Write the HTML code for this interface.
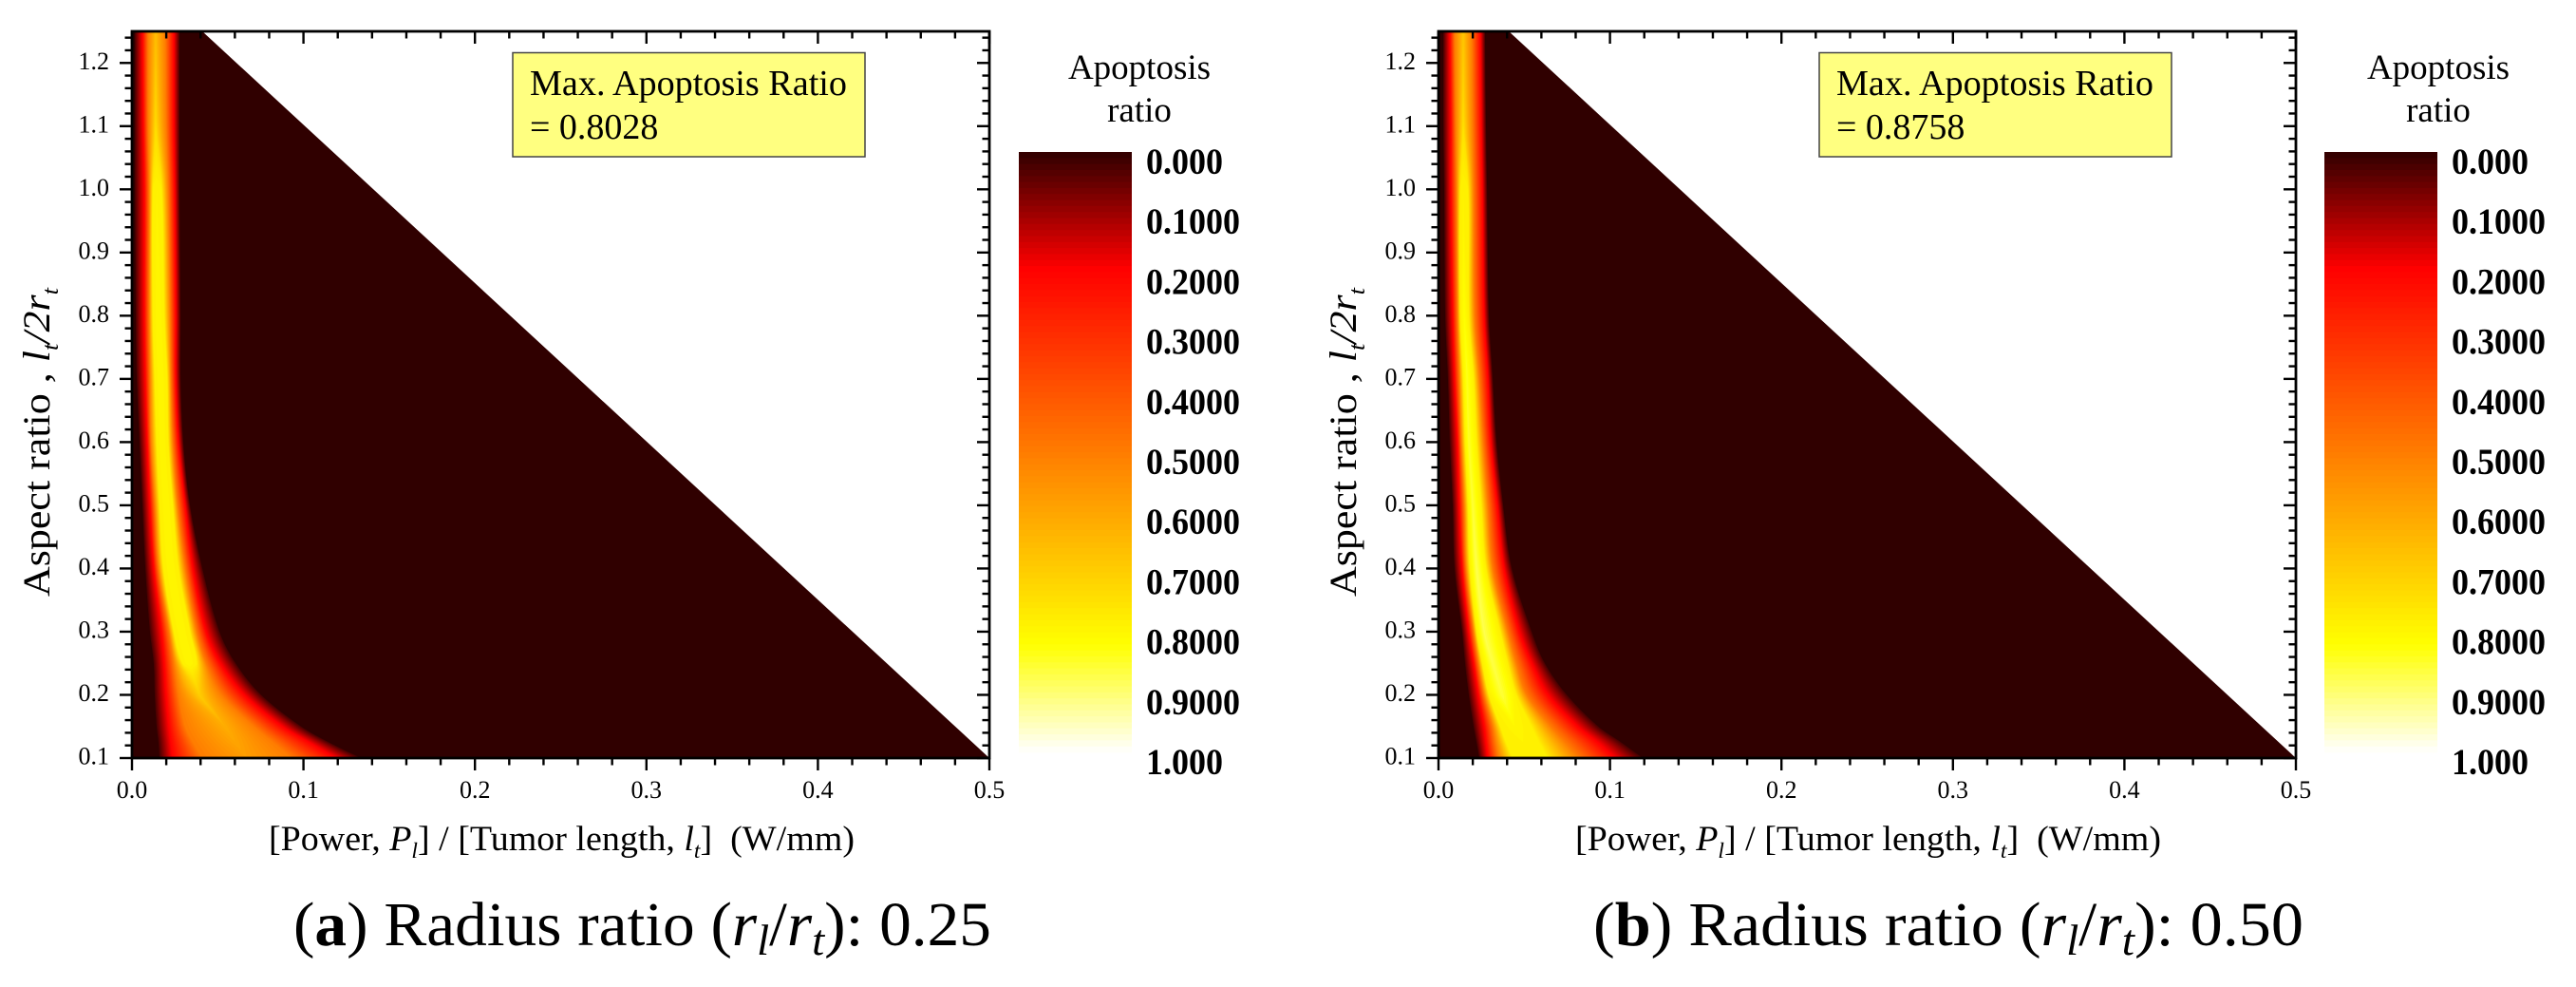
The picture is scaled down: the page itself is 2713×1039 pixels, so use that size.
<!DOCTYPE html>
<html lang="en">
<head>
<meta charset="utf-8">
<title>Apoptosis ratio heatmaps</title>
<style>
html,body{margin:0;padding:0;background:#fff;}
svg{display:block;}
text{font-family:"Liberation Serif",serif;fill:#000;white-space:pre;}
</style>
</head>
<body>
<svg id="figure" xmlns="http://www.w3.org/2000/svg" width="2713" height="1039" viewBox="0 0 2713 1039">
  <defs>
    <clipPath id="clip-a"><rect x="139" y="33" width="903" height="765"/></clipPath>
    <clipPath id="clip-b"><rect x="1515" y="33" width="903" height="765"/></clipPath>
  </defs>
  <rect x="0" y="0" width="2713" height="1039" fill="#fff"/>

  <g id="panel-a"></g>
  <g id="panel-b"></g>

  <g>
    <rect x="540" y="55.5" width="371" height="109.5" fill="#ffff80" stroke="#444" stroke-width="1.5"/>
    <text x="558" y="100" font-size="38" textLength="334" lengthAdjust="spacingAndGlyphs">Max. Apoptosis Ratio</text>
    <text x="558" y="146" font-size="38">= 0.8028</text>
  </g>
  <g>
    <rect x="1916" y="55.5" width="371" height="109.5" fill="#ffff80" stroke="#444" stroke-width="1.5"/>
    <text x="1934" y="100" font-size="38" textLength="334" lengthAdjust="spacingAndGlyphs">Max. Apoptosis Ratio</text>
    <text x="1934" y="146" font-size="38">= 0.8758</text>
  </g>

  <text x="283" y="895" font-size="37" textLength="617" lengthAdjust="spacingAndGlyphs">[Power, <tspan font-style="italic">P</tspan><tspan font-style="italic" font-size="23" dy="8">l</tspan><tspan dy="-8">] / [Tumor length, </tspan><tspan font-style="italic">l</tspan><tspan font-style="italic" font-size="23" dy="8">t</tspan><tspan dy="-8">]  (W/mm)</tspan></text>
  <text x="1659" y="895" font-size="37" textLength="617" lengthAdjust="spacingAndGlyphs">[Power, <tspan font-style="italic">P</tspan><tspan font-style="italic" font-size="23" dy="8">l</tspan><tspan dy="-8">] / [Tumor length, </tspan><tspan font-style="italic">l</tspan><tspan font-style="italic" font-size="23" dy="8">t</tspan><tspan dy="-8">]  (W/mm)</tspan></text>

  <text transform="translate(52,628) rotate(-90)" x="0" y="0" font-size="40" textLength="325" lengthAdjust="spacingAndGlyphs">Aspect ratio , <tspan font-style="italic">l</tspan><tspan font-style="italic" font-size="24" dy="9">t</tspan><tspan font-style="italic" dy="-9">/2r</tspan><tspan font-style="italic" font-size="24" dy="9">t</tspan></text>
  <text transform="translate(1428,628) rotate(-90)" x="0" y="0" font-size="40" textLength="325" lengthAdjust="spacingAndGlyphs">Aspect ratio , <tspan font-style="italic">l</tspan><tspan font-style="italic" font-size="24" dy="9">t</tspan><tspan font-style="italic" dy="-9">/2r</tspan><tspan font-style="italic" font-size="24" dy="9">t</tspan></text>

  <text x="1200" y="83" font-size="37" text-anchor="middle">Apoptosis</text>
  <text x="1200" y="128" font-size="37" text-anchor="middle">ratio</text>
  <text x="2568" y="83" font-size="37" text-anchor="middle">Apoptosis</text>
  <text x="2568" y="128" font-size="37" text-anchor="middle">ratio</text>

  <text x="309" y="995" font-size="66" textLength="735" lengthAdjust="spacingAndGlyphs">(<tspan font-weight="bold">a</tspan>) Radius ratio (<tspan font-style="italic">r</tspan><tspan font-style="italic" font-size="46" dy="10">l</tspan><tspan dy="-10">/</tspan><tspan font-style="italic">r</tspan><tspan font-style="italic" font-size="46" dy="10">t</tspan><tspan dy="-10">): 0.25</tspan></text>
  <text x="1678" y="995" font-size="66" textLength="748" lengthAdjust="spacingAndGlyphs">(<tspan font-weight="bold">b</tspan>) Radius ratio (<tspan font-style="italic">r</tspan><tspan font-style="italic" font-size="46" dy="10">l</tspan><tspan dy="-10">/</tspan><tspan font-style="italic">r</tspan><tspan font-style="italic" font-size="46" dy="10">t</tspan><tspan dy="-10">): 0.50</tspan></text>
</svg>

<script>
// ---------- Axis data ----------
const xTickValues = [0.0, 0.1, 0.2, 0.3, 0.4, 0.5];
const xTickLabels = ["0.0", "0.1", "0.2", "0.3", "0.4", "0.5"];
const yTickValues = [0.1, 0.2, 0.3, 0.4, 0.5, 0.6, 0.7, 0.8, 0.9, 1.0, 1.1, 1.2];
const yTickLabels = ["0.1", "0.2", "0.3", "0.4", "0.5", "0.6", "0.7", "0.8", "0.9", "1.0", "1.1", "1.2"];
const colorbarTickValues = [0, 0.1, 0.2, 0.3, 0.4, 0.5, 0.6, 0.7, 0.8, 0.9, 1];
const colorbarTickLabels = ["0.000", "0.1000", "0.2000", "0.3000", "0.4000", "0.5000", "0.6000", "0.7000", "0.8000", "0.9000", "1.000"];

// ---------- Colour map ----------
const colorStopValues = [0, 0.195, 0.82, 1];
const colorStopR = [48, 255, 255, 255];
const colorStopG = [0, 0, 255, 255];
const colorStopB = [0, 0, 0, 255];

// ---------- Feasible domain (power/length, aspect ratio) ----------
const domainPower = [0, 0.041, 0.5, 0];
const domainAspect = [1.25, 1.25, 0.1, 0.1];

// ---------- Heatmap contours, read per aspect-ratio row ----------
const aspectRows = [1.25, 1.1, 1.0, 0.8, 0.7, 0.6, 0.5, 0.4, 0.3, 0.25, 0.2, 0.15, 0.125, 0.1];
const contourLevels = [0.02, 0.2, 0.5, 0.78];

const aLeft001 = [.0017,.0017,.0017,.0022,.0028,.0044,.0061,.0078,.0105,.0127,.0133,.0144,.0155,.0161];
const aLeft020 = [.0061,.0066,.0072,.0072,.0078,.0089,.0105,.0127,.0172,.0188,.0199,.0216,.0227,.0238];
const aLeft050 = [.0094,.0094,.0100,.0100,.0105,.0111,.0133,.0155,.0216,.0244,.0271,.0310,.0355,.0410];
const aLeft078 = [null,null,.0122,.0122,.0133,.0144,.0161,.0183,.0244,.0294,null,null,null,null];
const aRidge   = [.0138,.0138,.0144,.0155,.0166,.0177,.0199,.0227,.0288,.0332,.0393,.0543,.0604,.0670];
const aRight078= [null,null,.0172,.0188,.0205,.0211,.0238,.0271,.0338,.0377,null,null,null,null];
const aRight050= [.0194,.0199,.0211,.0222,.0227,.0238,.0266,.0310,.0377,.0432,.0521,.0709,.0820,.0931];
const aRight020= [.0244,.0244,.0249,.0255,.0255,.0271,.0310,.0355,.0432,.0515,.0654,.0875,.1030,.1186];
const aRight001= [.0277,.0277,.0277,.0283,.0283,.0299,.0338,.0410,.0510,.0604,.0753,.0986,.1147,.1335];
const aPeak    = [.66,.74,.79,.80,.80,.80,.80,.80,.80,.80,.70,.62,.60,.58];

const bLeft001 = [.0028,.0028,.0033,.0039,.0055,.0066,.0083,.0094,.0138,.0155,.0177,.0205,.0222,.0238];
const bLeft020 = [.0066,.0072,.0072,.0083,.0094,.0111,.0122,.0138,.0177,.0205,.0233,.0266,.0277,.0288];
const bLeft050 = [.0094,.0100,.0105,.0111,.0122,.0133,.0150,.0161,.0205,.0233,.0266,.0316,.0332,.0349];
const bLeft078 = [null,null,.0127,.0127,.0144,.0155,.0172,.0183,.0222,.0255,.0294,.0360,.0393,.0432];
const bRidge   = [.0144,.0144,.0144,.0150,.0166,.0177,.0199,.0222,.0266,.0316,.0371,.0443,.0493,.0543];
const bRight078= [null,null,.0172,.0177,.0205,.0222,.0249,.0277,.0360,.0404,.0454,.0543,.0587,.0637];
const bRight050= [.0194,.0199,.0205,.0211,.0238,.0260,.0288,.0316,.0404,.0454,.0515,.0654,.0737,.0820];
const bRight020= [.0244,.0249,.0255,.0266,.0288,.0305,.0343,.0382,.0471,.0543,.0637,.0809,.0925,.1025];
const bRight001= [.0271,.0277,.0283,.0294,.0316,.0338,.0377,.0427,.0543,.0620,.0748,.0931,.1064,.1191];
const bPeak    = [.68,.75,.79,.82,.84,.85,.86,.875,.875,.87,.86,.80,.79,.785];

// ---------- Layout ----------
const NS = 'http://www.w3.org/2000/svg';
const plotTop = 33, plotBottom = 798, plotWidth = 903;
const xMin = 0, xMax = 0.5, yMin = 0.1, yMax = 1.25;
const barTop = 160, barBottom = 792, barWidth = 119;
const colorLevelCount = 100;

function make(tag, attrs, parent) {
  const el = document.createElementNS(NS, tag);
  for (const k in attrs) el.setAttribute(k, attrs[k]);
  parent.appendChild(el);
  return el;
}

function colorAt(v) {
  let i = 0;
  while (i < colorStopValues.length - 2 && v > colorStopValues[i + 1]) i++;
  const t = Math.max(0, Math.min(1, (v - colorStopValues[i]) / (colorStopValues[i + 1] - colorStopValues[i])));
  const r = Math.round(colorStopR[i] + t * (colorStopR[i + 1] - colorStopR[i]));
  const g = Math.round(colorStopG[i] + t * (colorStopG[i + 1] - colorStopG[i]));
  const b = Math.round(colorStopB[i] + t * (colorStopB[i + 1] - colorStopB[i]));
  return 'rgb(' + r + ',' + g + ',' + b + ')';
}

// Position of a contour level in one row, from the contours read for that row
function powerAtLevel(knots, ridge, peak, v) {
  if (v >= peak) return ridge;
  const lv = [], ps = [];
  knots.forEach(function (p, i) {
    if (p !== null && contourLevels[i] < peak) { lv.push(contourLevels[i]); ps.push(p); }
  });
  lv.push(peak); ps.push(ridge);
  if (v <= lv[0]) return ps[0];
  for (let i = 0; i < lv.length - 1; i++) {
    if (v <= lv[i + 1]) return ps[i] + (v - lv[i]) / (lv[i + 1] - lv[i]) * (ps[i + 1] - ps[i]);
  }
  return ridge;
}

// Smooth curve through contour points, parameterised by y
function curveThrough(xs, ys, first) {
  const n = xs.length;
  const m = [];
  for (let i = 0; i < n; i++) {
    const a = Math.max(0, i - 1), b = Math.min(n - 1, i + 1);
    m.push((xs[b] - xs[a]) / (ys[b] - ys[a]));
  }
  let d = (first ? 'M' : 'L') + xs[0].toFixed(2) + ' ' + ys[0].toFixed(2);
  for (let i = 0; i < n - 1; i++) {
    const h = (ys[i + 1] - ys[i]) / 3;
    d += 'C' + (xs[i] + m[i] * h).toFixed(2) + ' ' + (ys[i] + h).toFixed(2) + ' ' +
         (xs[i + 1] - m[i + 1] * h).toFixed(2) + ' ' + (ys[i + 1] - h).toFixed(2) + ' ' +
         xs[i + 1].toFixed(2) + ' ' + ys[i + 1].toFixed(2);
  }
  return d;
}

function drawPanel(cfg) {
  const root = document.getElementById(cfg.id);
  const x0 = cfg.x0;
  const xScale = function (p) { return x0 + (p - xMin) / (xMax - xMin) * plotWidth; };
  const yScale = function (l) { return plotBottom - (l - yMin) / (yMax - yMin) * (plotBottom - plotTop); };

  const heat = make('g', { 'clip-path': 'url(#' + cfg.clip + ')' }, root);
  
  

  const domain = make('polygon', {
    points: domainPower.map(function (p, i) { return xScale(p) + ',' + yScale(domainAspect[i]); }).join(' '),
    fill: colorAt(0)
  }, heat);
  
  

  const ysRows = aspectRows.map(yScale);
  const peak = cfg.peak, ridge = cfg.ridge;
  for (let k = 1; k < colorLevelCount; k++) {
    const v = k / colorLevelCount;
    let i0 = -1, i1 = -1;
    for (let r = 0; r < aspectRows.length; r++) {
      if (peak[r] > v) { if (i0 < 0) i0 = r; i1 = r; }
    }
    if (i0 < 0) break;

    const leftX = [], rightX = [], ys = [];
    // The level closes on the ridge where the row peak falls to it
    if (i0 > 0) {
      const t = (v - peak[i0 - 1]) / (peak[i0] - peak[i0 - 1]);
      const capX = xScale(ridge[i0 - 1] + t * (ridge[i0] - ridge[i0 - 1]));
      leftX.push(capX);
      rightX.push(capX);
      ys.push(ysRows[i0 - 1] + t * (ysRows[i0] - ysRows[i0 - 1]));
    }
    for (let r = i0; r <= i1; r++) {
      leftX.push(xScale(powerAtLevel([cfg.left[0][r], cfg.left[1][r], cfg.left[2][r], cfg.left[3][r]], ridge[r], peak[r], v)));
      rightX.push(xScale(powerAtLevel([cfg.right[0][r], cfg.right[1][r], cfg.right[2][r], cfg.right[3][r]], ridge[r], peak[r], v)));
      ys.push(ysRows[r]);
    }
    if (i1 < aspectRows.length - 1) {
      const t = (v - peak[i1 + 1]) / (peak[i1] - peak[i1 + 1]);
      const capX = xScale(ridge[i1 + 1] + t * (ridge[i1] - ridge[i1 + 1]));
      leftX.push(capX);
      rightX.push(capX);
      ys.push(ysRows[i1 + 1] + t * (ysRows[i1] - ysRows[i1 + 1]));
    }
    const d = curveThrough(leftX, ys, true) +
              curveThrough(rightX.slice().reverse(), ys.slice().reverse(), false) + 'Z';
    const band = make('path', { d: d, fill: colorAt(v + 0.005) }, heat);
    
    
  }

  const frame = make('rect', { x: x0, y: plotTop, width: plotWidth, height: plotBottom - plotTop, fill: 'none', stroke: '#000', 'stroke-width': 2.8 }, root);
  
  

  const ticks = make('g', { stroke: '#000', 'stroke-width': 2.4 }, root);
  
  

  // x ticks: outward at the bottom, inward at the top (minor every 0.02)
  for (let i = 0; i <= 25; i++) {
    const px = xScale(i * 0.02);
    const len = i % 5 === 0 ? 13 : 7.5;
    const b = make('line', { x1: px, x2: px, y1: plotBottom, y2: plotBottom + len }, ticks);
    
    
    const t = make('line', { x1: px, x2: px, y1: plotTop, y2: plotTop + len }, ticks);
    
    
  }
  // y ticks: outward on the left, inward on the right (minor every 0.02)
  for (let i = 0; i <= 57; i++) {
    const py = yScale(0.1 + i * 0.02);
    const len = i % 5 === 0 ? 13 : 7.5;
    const l = make('line', { x1: x0 - len, x2: x0, y1: py, y2: py }, ticks);
    
    
    const r = make('line', { x1: x0 + plotWidth - len, x2: x0 + plotWidth, y1: py, y2: py }, ticks);
    
    
  }

  xTickValues.forEach(function (val, i) {
    const t = make('text', { x: xScale(val), y: 840, 'font-size': 26, 'text-anchor': 'middle' }, root);
    t.textContent = xTickLabels[i];
    
    
  });
  yTickValues.forEach(function (val, i) {
    const t = make('text', { x: x0 - 24, y: yScale(val) + 6.5, 'font-size': 26, 'text-anchor': 'end' }, root);
    t.textContent = yTickLabels[i];
    
    
  });

  // Colour bar
  const bar = make('g', {}, root);
  
  
  const barScale = function (v) { return barTop + v * (barBottom - barTop); };
  for (let k = 0; k < colorLevelCount; k++) {
    const v = k / colorLevelCount;
    const y1 = barScale(v);
    const y2 = barScale((k + 1) / colorLevelCount);
    const seg = make('rect', { x: cfg.barX, y: y1, width: barWidth, height: y2 - y1 + 0.5, fill: colorAt(v + 0.005) }, bar);
    
    
  }
  colorbarTickValues.forEach(function (val, i) {
    const label = colorbarTickLabels[i];
    const t = make('text', {
      x: cfg.barX + barWidth + 15,
      y: barTop + 10 + val * 632 + 13,
      'font-size': 39,
      'font-weight': 'bold',
      textLength: ((label.length - 1) * 0.5 + 0.25) * 36,
      lengthAdjust: 'spacingAndGlyphs'
    }, root);
    t.textContent = label;
    
    
  });
}

drawPanel({
  id: 'panel-a', clip: 'clip-a', x0: 139, barX: 1073,
  left: [aLeft001, aLeft020, aLeft050, aLeft078],
  right: [aRight001, aRight020, aRight050, aRight078],
  ridge: aRidge, peak: aPeak
});
drawPanel({
  id: 'panel-b', clip: 'clip-b', x0: 1515, barX: 2448,
  left: [bLeft001, bLeft020, bLeft050, bLeft078],
  right: [bRight001, bRight020, bRight050, bRight078],
  ridge: bRidge, peak: bPeak
});
</script>
</body>
</html>
